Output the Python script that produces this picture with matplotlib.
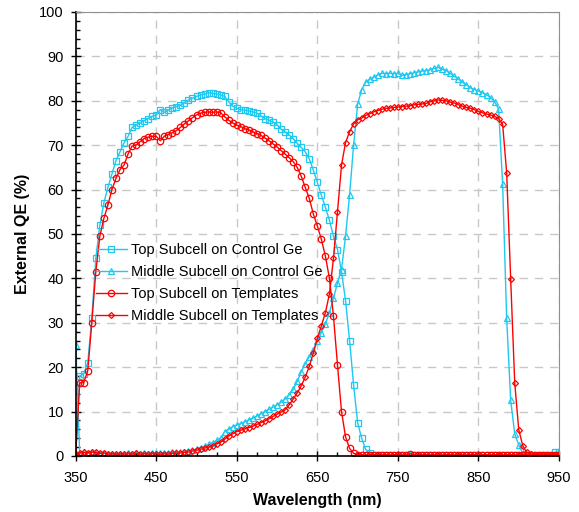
import numpy as np
import matplotlib
matplotlib.use("Agg")
import matplotlib.pyplot as plt
from matplotlib.ticker import MultipleLocator

plt.rcParams['font.family'] = ['Liberation Sans', 'DejaVu Sans']

wavelength = np.arange(350, 951, 5)

top_control = [
    0.3, 18, 18.5, 21, 31, 44.5, 52, 57, 60.5, 63.5,            # 350-395
    66.5, 68.5, 70.5, 72, 74, 74.5, 75, 75.5, 76, 76.5,          # 400-445
    76.8, 78, 77.4, 77.9, 78.4, 78.7, 79, 79.5, 80.2, 80.6,      # 450-495
    81, 81.3, 81.5, 81.8, 81.7, 81.5, 81.3, 81, 79.8, 78.8,      # 500-545
    78.3, 78, 77.9, 77.7, 77.5, 77.2, 76.6, 76, 75.6, 75.2,      # 550-595
    74.6, 73.6, 73, 72.3, 71.5, 70.4, 69.5, 68.5, 66.9, 64.4,    # 600-645
    61.6, 58.7, 56, 53.1, 49.5, 46.5, 41.5, 35, 26, 16,          # 650-695
    7.5, 4, 1.5, 0.6, 0.3, 0.3, 0.2, 0.3, 0.2, 0.2,              # 700-745
    0.2, 0.3, 0.2, 0.2, 0.3, 0.2, 0.2, 0.2, 0.3, 0.2,            # 750-795
    0.2, 0.2, 0.3, 0.2, 0.2, 0.2, 0.3, 0.2, 0.2, 0.2,            # 800-845
    0.3, 0.2, 0.2, 0.2, 0.2, 0.3, 0.2, 0.2, 0.2, 0.2,            # 850-895
    0.2, 0.3, 0.2, 0.2, 0.2, 0.2, 0.2, 0.2, 0.3, 0.8,            # 900-945
    1.0,                                                          # 950
]

middle_control = [
    25, 0.5, 0.8, 0.6, 0.8, 0.7, 0.5, 0.6, 0.5, 0.4,
    0.5, 0.4, 0.5, 0.6, 0.5, 0.7, 0.5, 0.6, 0.5, 0.7,
    0.6, 0.6, 0.7, 0.6, 0.8, 0.9, 0.9, 1.0, 1.2, 1.4,
    1.6, 1.9, 2.2, 2.6, 3.0, 3.5, 4.0, 5.5, 6.0, 6.6,
    7.0, 7.3, 7.7, 8.1, 8.5, 9.0, 9.5, 10.0, 10.5, 11.0,
    11.5, 12.1, 12.8, 13.8, 15.0, 16.8, 19.0, 20.8, 22.4, 23.9,
    25.8, 27.8, 29.8, 32.3, 35.5, 39.0, 42, 49.5, 58.8, 70,
    79.2, 82.5, 84.2, 84.8, 85.3, 85.8, 86.2, 86.1, 86.2, 86.1,
    86.2, 85.7, 85.9, 86.1, 86.3, 86.5, 86.7, 86.8, 87, 87.3,
    87.5, 87.1, 86.8, 86.2, 85.5, 84.9, 84.2, 83.6, 82.9, 82.5,
    82.2, 81.8, 81.4, 80.7, 79.8, 78.2, 61.2, 31, 12.5, 5,
    2.5, 0.6, 0.3, 0.2, 0.2, 0.2, 0.2, 0.2, 0.2, 0.2,
    0.2,
]

top_templates = [
    0.3, 16.5, 16.5, 19.2, 30, 41.5, 49.5, 53.5, 56.5, 60,
    62.5, 64.5, 65.5, 68, 69.8, 70, 70.8, 71.5, 71.8, 72,
    72, 71, 72, 72.4, 72.8, 73.3, 74, 74.8, 75.5, 76.2,
    76.8, 77.2, 77.4, 77.5, 77.4, 77.5, 77.3, 76.4, 75.6, 75,
    74.5, 74.2, 73.7, 73.4, 73, 72.6, 72.2, 71.6, 71, 70.3,
    69.6, 68.8, 68, 67.2, 66.3, 65, 63, 60.5, 58, 54.5,
    51.8, 48.8, 45, 40, 31.5, 20.5, 10, 4.3, 1.7, 0.6,
    0.3, 0.3, 0.2, 0.3, 0.3, 0.2, 0.3, 0.3, 0.2, 0.3,
    0.3, 0.2, 0.3, 0.5, 0.3, 0.2, 0.3, 0.3, 0.2, 0.3,
    0.3, 0.2, 0.3, 0.3, 0.2, 0.3, 0.3, 0.2, 0.3, 0.3,
    0.2, 0.3, 0.3, 0.2, 0.3, 0.3, 0.2, 0.3, 0.3, 0.2,
    0.3, 0.3, 0.2, 0.3, 0.3, 0.2, 0.3, 0.3, 0.2, 0.3,
    0.3,
]

middle_templates = [
    0.2, 0.7, 0.8, 0.7, 0.9, 0.8, 0.6, 0.7, 0.4, 0.5,
    0.4, 0.5, 0.4, 0.5, 0.4, 0.6, 0.4, 0.5, 0.4, 0.5,
    0.5, 0.4, 0.5, 0.4, 0.6, 0.6, 0.7, 0.8, 0.9, 1.1,
    1.3, 1.5, 1.8, 2.0, 2.3, 2.7, 3.1, 3.8, 4.5, 5.0,
    5.5, 5.8, 6.1, 6.4, 6.7, 7.1, 7.5, 7.9, 8.4, 8.9,
    9.4, 9.9, 10.4, 11.5, 12.8, 14.2, 15.8, 17.8, 20.2, 23.2,
    26.5, 29.3, 32.3, 36.5, 44.5, 55, 65.5, 70.6, 73, 74.8,
    75.7, 76.1, 76.7, 77.1, 77.5, 77.8, 78.1, 78.3, 78.4, 78.5,
    78.6, 78.7, 78.8, 78.9, 79.1, 79.2, 79.3, 79.4, 79.8, 80,
    80.2, 80.1, 80, 79.7, 79.5, 79.1, 78.8, 78.5, 78.3, 78,
    77.6, 77.3, 77, 76.8, 76.5, 76, 74.7, 63.8, 39.8, 16.5,
    5.9, 2.3, 0.8, 0.4, 0.3, 0.3, 0.3, 0.3, 0.3, 0.3,
    0.3,
]

xticks = [350, 450, 550, 650, 750, 850, 950]

CYAN = "#1EC8F0"
RED = "#FF0000"

fig = plt.figure(figsize=(5.79, 5.12), dpi=100)
ax = fig.add_axes([0.1307, 0.1094, 0.8348, 0.8672])

ax.plot(wavelength, top_control, color=CYAN, lw=1.0, marker='s', ms=4.6,
        mfc='none', mew=0.9, label="Top Subcell on Control Ge")
ax.plot(wavelength, middle_control, color=CYAN, lw=1.0, marker='^', ms=4.6,
        mfc='none', mew=0.9, label="Middle Subcell on Control Ge")
ax.plot(wavelength, top_templates, color=RED, lw=1.0, marker='o', ms=4.6,
        mfc='none', mew=0.9, label="Top Subcell on Templates")
ax.plot(wavelength, middle_templates, color=RED, lw=1.0, marker='D', ms=3.0,
        mfc='none', mew=0.9, label="Middle Subcell on Templates")

ax.set_xlim(350, 950)
ax.set_ylim(0, 100)
ax.set_xticks(xticks)
ax.xaxis.set_minor_locator(MultipleLocator(25))
ax.yaxis.set_major_locator(MultipleLocator(10))
ax.yaxis.set_minor_locator(MultipleLocator(2))

ax.grid(True, which='major', color='#c8c8c8', linestyle=(0, (6, 5)), lw=1.0)
ax.set_axisbelow(True)

ax.tick_params(which='major', direction='inout', length=7, width=1.0,
               labelsize=10.5, colors='black')
ax.tick_params(axis='x', which='major', pad=7)
ax.tick_params(axis='y', which='major', pad=5)
ax.tick_params(which='minor', direction='in', length=3, width=1.0)

for s in ['top', 'right']:
    ax.spines[s].set_color('#909090')
for s in ['left', 'bottom']:
    ax.spines[s].set_color('black')
    ax.spines[s].set_linewidth(1.2)

ax.set_xlabel("Wavelength (nm)", fontsize=11.5, fontweight='bold', labelpad=6)
ax.set_ylabel("External QE (%)", fontsize=11.5, fontweight='bold', labelpad=7)

ax.legend(loc='upper left', bbox_to_anchor=(0.03, 0.493), frameon=False,
          fontsize=10.5, handlelength=2.1, labelspacing=0.56, handletextpad=0.3,
          borderaxespad=0)

fig.savefig("out.png", dpi=100)
